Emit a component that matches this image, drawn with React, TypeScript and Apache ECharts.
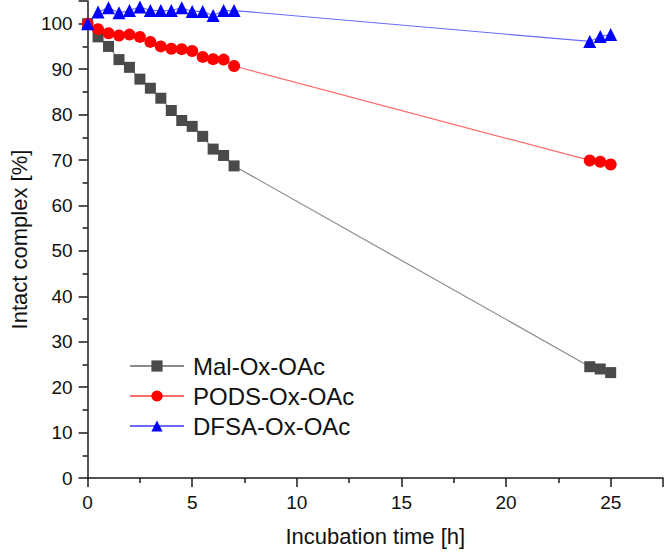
import React, { useEffect, useRef } from "react";
import * as echarts from "echarts";

// Incubation time points [h]
const times = [0, 0.5, 1, 1.5, 2, 2.5, 3, 3.5, 4, 4.5, 5, 5.5, 6, 6.5, 7, 24, 24.5, 25];

// Intact complex [%] for each conjugate
const malOxOAc = [100, 97.1, 95.0, 92.1, 90.4, 87.8, 85.8, 83.6, 80.9, 78.7, 77.4, 75.2, 72.4, 71.0, 68.7, 24.5, 24.0, 23.2];
const podsOxOAc = [100, 98.8, 97.9, 97.4, 97.6, 97.1, 96.0, 95.0, 94.5, 94.4, 94.0, 92.7, 92.2, 92.1, 90.7, 69.9, 69.6, 69.0];
const dfsaOxOAc = [100, 102.6, 103.5, 102.4, 102.9, 103.7, 102.9, 102.9, 102.9, 103.5, 102.7, 102.7, 101.8, 102.9, 102.9, 96.1, 97.2, 97.6];

const seriesNames = ["Mal-Ox-OAc", "PODS-Ox-OAc", "DFSA-Ox-OAc"];

const FONT = "Liberation Sans, Arial, sans-serif";
const AXIS_COLOR = "#1a1a1a";

const pairs = (ys: number[]) => times.map((t, i) => [t, ys[i]]);

export default function App() {
  const ref = useRef<HTMLDivElement>(null);

  useEffect(() => {
    document.body.style.margin = "0";
    if (!ref.current) return;
    const chart = echarts.init(ref.current, undefined, { renderer: "svg" });

    const axisCommon = {
      axisLine: { show: true, onZero: false, lineStyle: { color: AXIS_COLOR, width: 1.5 } },
      axisTick: { show: true, inside: false, length: 9, lineStyle: { color: AXIS_COLOR, width: 1.5 } },
      minorTick: { show: true, splitNumber: 2, length: 5, lineStyle: { color: AXIS_COLOR, width: 1.5 } },
      splitLine: { show: false },
      axisLabel: { fontFamily: FONT, fontSize: 19, color: "#111", margin: 15, showMaxLabel: false },
      nameTextStyle: { fontFamily: FONT, fontSize: 22, color: "#111" },
    };

    chart.setOption({
      animation: false,
      backgroundColor: "#ffffff",
      grid: { left: 78, right: 3, top: 1, bottom: 75, containLabel: false },
      xAxis: {
        type: "value",
        min: 0,
        max: 27.5,
        interval: 5,
        name: "Incubation time [h]",
        nameLocation: "middle",
        nameGap: 47,
        ...axisCommon,
      },
      yAxis: {
        type: "value",
        min: 0,
        max: 105,
        interval: 10,
        name: "Intact complex [%]",
        nameLocation: "middle",
        nameGap: 55,
        ...axisCommon,
      },
      legend: {
        orient: "vertical",
        left: 129,
        top: 353,
        padding: 0,
        itemWidth: 54,
        itemHeight: 14,
        itemGap: 4,
        textStyle: { fontFamily: FONT, fontSize: 24, color: "#111", lineHeight: 26, padding: [0, 0, 0, 4] },
        data: seriesNames,
      },
      series: [
        {
          name: seriesNames[0],
          type: "line",
          data: pairs(malOxOAc),
          symbol: "rect",
          symbolSize: 11,
          itemStyle: { color: "#4a4a4a" },
          lineStyle: { color: "#8c8c8c", width: 1.2 },
        },
        {
          name: seriesNames[1],
          type: "line",
          data: pairs(podsOxOAc),
          symbol: "circle",
          symbolSize: 12,
          itemStyle: { color: "#ff0000" },
          lineStyle: { color: "#ff6a6a", width: 1.2 },
        },
        {
          name: seriesNames[2],
          type: "line",
          data: pairs(dfsaOxOAc),
          symbol: "triangle",
          symbolSize: 13,
          itemStyle: { color: "#0000ff" },
          lineStyle: { color: "#6a6aff", width: 1.2 },
        },
      ],
    });

    return () => chart.dispose();
  }, []);

  return <div ref={ref} style={{ width: 666, height: 553 }} />;
}
